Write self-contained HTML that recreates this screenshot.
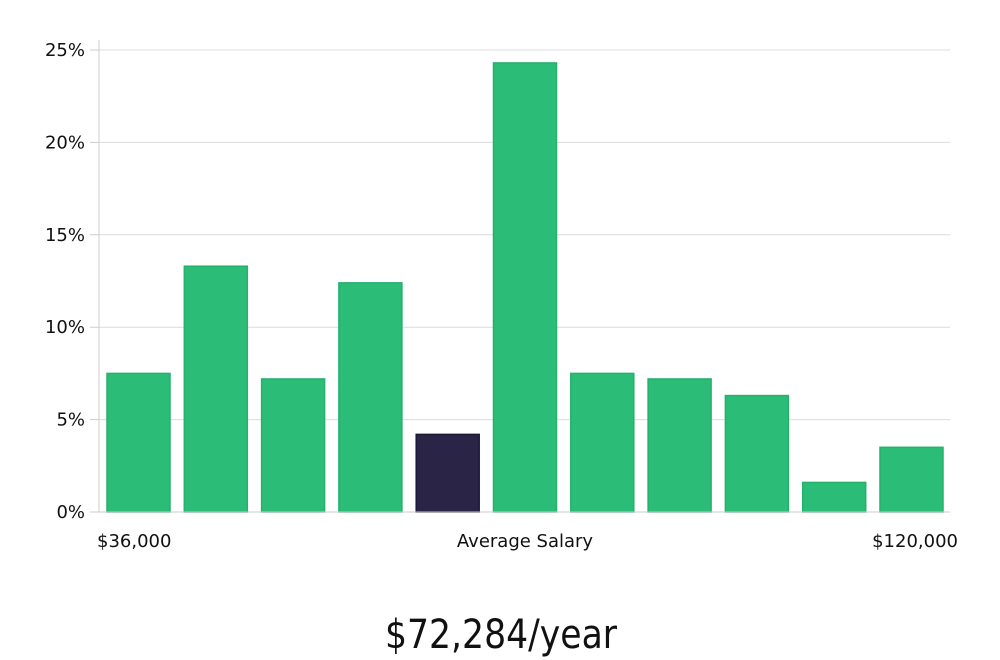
<!DOCTYPE html>
<html><head><meta charset="utf-8"><style>
body{margin:0;background:#fff;width:1000px;height:660px;overflow:hidden}
svg{display:block;font-family:"DejaVu Sans","Liberation Sans",sans-serif}
</style></head><body>
<svg id="chart" width="1000" height="660" viewBox="0 0 1000 660">
<g id="grid"></g><g id="bars"></g><g id="axes"></g>
<text x="97" y="547" font-size="18" fill="#111">$36,000</text>
<text x="525" y="547" font-size="18" fill="#111" text-anchor="middle">Average Salary</text>
<text x="958" y="547" font-size="18" fill="#111" text-anchor="end">$120,000</text>
<text x="385" y="648" font-size="40" fill="#111" textLength="232" lengthAdjust="spacingAndGlyphs" font-family="DejaVu Sans Condensed, DejaVu Sans, sans-serif">$72,284/year</text>
</svg>
<script>
const values=[7.5,13.3,7.2,12.4,4.2,24.3,7.5,7.2,6.3,1.6,3.5];
const highlight=[false,false,false,false,true,false,false,false,false,false,false];
const yTicks=[0,5,10,15,20,25];
const yTickLabels=["0%","5%","10%","15%","20%","25%"];
const NS="http://www.w3.org/2000/svg";
const x0=99,x1=950,y0=512,yMax=25,yTop=50;
const y=v=>y0-(y0-yTop)*v/yMax;
const step=(x1-x0)/values.length, bw=63;
const xb=i=>x0+8+i*step*((880-107)/10/step);
function mk(t,a,p){const e=document.createElementNS(NS,t);for(const k in a)e.setAttribute(k,a[k]);p.appendChild(e);return e;}
const grid=document.getElementById('grid'),bars=document.getElementById('bars'),axes=document.getElementById('axes');
yTicks.forEach((t,i)=>{
  if(t>0){const g=mk('line',{x1:x0,x2:x1,y1:y(t),y2:y(t),stroke:'#dcdcdc','stroke-width':1},grid);
  
  }
  const tk=mk('line',{x1:90,x2:x0,y1:y(t),y2:y(t),stroke:'#ccc'},axes);
  
  
  const lb=mk('text',{x:85,y:y(t)+6,'font-size':18,fill:'#111','text-anchor':'end'},axes);
  lb.textContent=yTickLabels[i];
  
  
});
const ax=mk('line',{x1:x0,x2:x0,y1:40,y2:y0,stroke:'#ccc'},axes);


const bx=mk('line',{x1:x0,x2:x1,y1:y0,y2:y0,stroke:'#ccc'},axes);


values.forEach((v,i)=>{
  const r=mk('rect',{x:107+i*77.3,y:y(v),width:bw,height:y0-y(v),fill:highlight[i]?'#2a2547':'#2bbd77',stroke:highlight[i]?'#1c1838':'#25b06d','stroke-width':1.5},bars);
  
  
});
</script>
</body></html>
